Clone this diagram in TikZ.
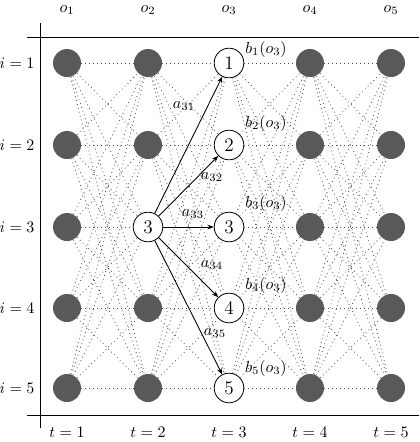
\documentclass[tikz,border=0pt]{standalone}
\usetikzlibrary{arrows.meta}
\definecolor{fillg}{HTML}{595959}
\begin{document}
\begin{tikzpicture}[x=0.625pt,y=-0.625pt,
  dark/.style={circle,fill=fillg,minimum size=17.5pt,inner sep=0pt},
  white/.style={circle,draw=black,line width=0.5pt,fill=white,minimum size=18.5pt,inner sep=0pt,font=\large},
  dotedge/.style={draw=black!70,dotted,line width=0.5pt},
  arr/.style={draw=black,line width=0.55pt,-{Stealth[length=4pt,width=3pt]}},
  axis/.style={draw=black,line width=0.5pt},
  lbl/.style={inner sep=0pt}]
\useasboundingbox (0,0) rectangle (419,442);
% axes
\coordinate (hl1) at (27,37); \coordinate (hr1) at (419,37);
\coordinate (hl2) at (27,415); \coordinate (hr2) at (419,415);
\coordinate (vt) at (40,23); \coordinate (vb) at (40,428);
\draw[axis] (hl1) -- (hr1);
\draw[axis] (hl2) -- (hr2);
\draw[axis] (vt) -- (vb);
% nodes
\foreach \c/\x in {1/67,2/148,3/229,4/310,5/391}{
  \foreach \r/\y in {1/63,2/145,3/227,4/308,5/388}{
    \ifnum\c=3
      \node[white] (n\c\r) at (\x,\y) {\r};
    \else\ifnum\c=2 \ifnum\r=3
      \node[white] (n\c\r) at (\x,\y) {3};
    \else
      \node[dark] (n\c\r) at (\x,\y) {};
    \fi\else
      \node[dark] (n\c\r) at (\x,\y) {};
    \fi\fi
  }
}
% dotted edges
\foreach \c/\d in {1/2,2/3,3/4,4/5}{
  \foreach \r in {1,...,5}{
    \foreach \s in {1,...,5}{
      \ifnum\c=2 \ifnum\r=3 \else
        \draw[dotedge] (n\c\r) -- (n\d\s);
      \fi\else
        \draw[dotedge] (n\c\r) -- (n\d\s);
      \fi
    }
  }
}
% solid arrows
\foreach \s in {1,...,5}{
  \draw[arr] (n23) -- (n3\s);
}
% labels
\foreach \c/\x in {1/67,2/148,3/229,4/310,5/391}{
  \node[lbl] (o\c) at (\x,10) {$o_{\c}$};
  \node[lbl] (t\c) at (\x,432) {$t=\c$};
}
\foreach \r/\y in {1/63,2/145,3/227,4/308,5/388}{
  \node[lbl] (i\r) at (17,\y) {$i=\r$};
}
\node[lbl] (b1) at (266,49) {$b_1(o_3)$};
\node[lbl] (b2) at (266,123) {$b_2(o_3)$};
\node[lbl] (b3) at (266,203) {$b_3(o_3)$};
\node[lbl] (b4) at (266,285) {$b_4(o_3)$};
\node[lbl] (b5) at (266,368) {$b_5(o_3)$};
\node[lbl] (a1) at (184,106) {$a_{31}$};
\node[lbl] (a2) at (212,177) {$a_{32}$};
\node[lbl] (a3) at (193,214) {$a_{33}$};
\node[lbl] (a4) at (212,265) {$a_{34}$};
\node[lbl] (a5) at (215,333) {$a_{35}$};
\end{tikzpicture}
\end{document}
